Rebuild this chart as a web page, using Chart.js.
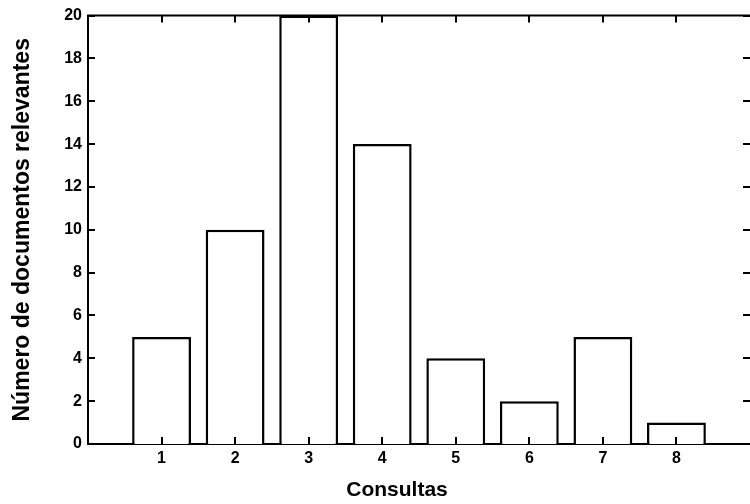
<!DOCTYPE html>
<html>
<head>
<meta charset="utf-8">
<script src="https://cdn.jsdelivr.net/npm/chart.js@4"></script>
<style>
  html, body { margin: 0; padding: 0; background: #fff; }
  #wrap { width: 750px; height: 504px; }
</style>
</head>
<body>
<div id="wrap"><canvas id="chart" width="750" height="504"></canvas></div>
<script>
// Data
const queries = [1, 2, 3, 4, 5, 6, 7, 8];
const relevantDocs = [5, 10, 20, 14, 4, 2, 5, 1];
const yTicks = [0, 2, 4, 6, 8, 10, 12, 14, 16, 18, 20];
const xTitle = 'Consultas';
const yTitle = 'Número de documentos relevantes';

const FONT = '"Liberation Sans", Arial, Helvetica, sans-serif';

// inward ticks on all four sides + top frame line
const frame = {
    id: 'frame',
    afterDraw(chart) {
        const { ctx, chartArea: a, scales: { x, y } } = chart;
        ctx.save();
        ctx.strokeStyle = '#000';
        ctx.lineWidth = 2;
        ctx.beginPath();
        ctx.moveTo(a.left - 1, a.top);
        ctx.lineTo(a.right, a.top);
        ctx.stroke();

        ctx.beginPath();
        yTicks.forEach(v => {
            const py = Math.round(y.getPixelForValue(v));
            ctx.moveTo(a.left, py); ctx.lineTo(a.left + 7, py);
            ctx.moveTo(a.right, py); ctx.lineTo(a.right - 7, py);
        });
        queries.forEach(q => {
            const px = Math.round(x.getPixelForValue(q));
            ctx.moveTo(px, a.top); ctx.lineTo(px, a.top + 7);
            ctx.moveTo(px, a.bottom); ctx.lineTo(px, a.bottom - 7);
        });
        ctx.stroke();

        ctx.fillStyle = '#000';
        ctx.font = 'bold 21px ' + FONT;
        ctx.textAlign = 'center';
        ctx.textBaseline = 'middle';
        ctx.fillText(xTitle, 397, 490);
        ctx.restore();
    }
};

new Chart(document.getElementById('chart'), {
    type: 'bar',
    data: {
        datasets: [{
            data: queries.map((q, i) => ({ x: q, y: relevantDocs[i] })),
            backgroundColor: '#fff',
            borderColor: '#000',
            borderWidth: 2.5,
            barPercentage: 0.8,
            categoryPercentage: 1
        }]
    },
    options: {
        responsive: false,
        animation: false,
        devicePixelRatio: 1,
        layout: { padding: { top: 15, right: 0, left: 0, bottom: 0 } },
        plugins: { legend: { display: false }, tooltip: { enabled: false } },
        scales: {
            x: {
                type: 'linear',
                min: 0,
                max: 9,
                offset: false,
                afterFit: s => { s.height = 60; },
                grid: { display: false, offset: false, drawTicks: false, tickLength: 0 },
                border: { display: true, color: '#000', width: 2 },
                ticks: {
                    stepSize: 1,
                    padding: 5,
                    color: '#000',
                    font: { family: FONT, size: 16, weight: 'bold' },
                    callback: v => queries.includes(v) ? String(v) : null
                }
            },
            y: {
                min: 0,
                max: 20,
                afterFit: s => { s.width = 88; },
                afterBuildTicks: s => { s.ticks = yTicks.map(v => ({ value: v })); },
                grid: { display: false, drawTicks: false, tickLength: 0 },
                border: { display: true, color: '#000', width: 2 },
                ticks: {
                    padding: 6,
                    color: '#000',
                    font: { family: FONT, size: 16, weight: 'bold' }
                },
                title: {
                    display: true,
                    text: yTitle,
                    color: '#000',
                    padding: { top: 9, bottom: 0 },
                    font: { family: FONT, size: 23, weight: 'bold' }
                }
            }
        }
    },
    plugins: [frame]
});
</script>
</body>
</html>
